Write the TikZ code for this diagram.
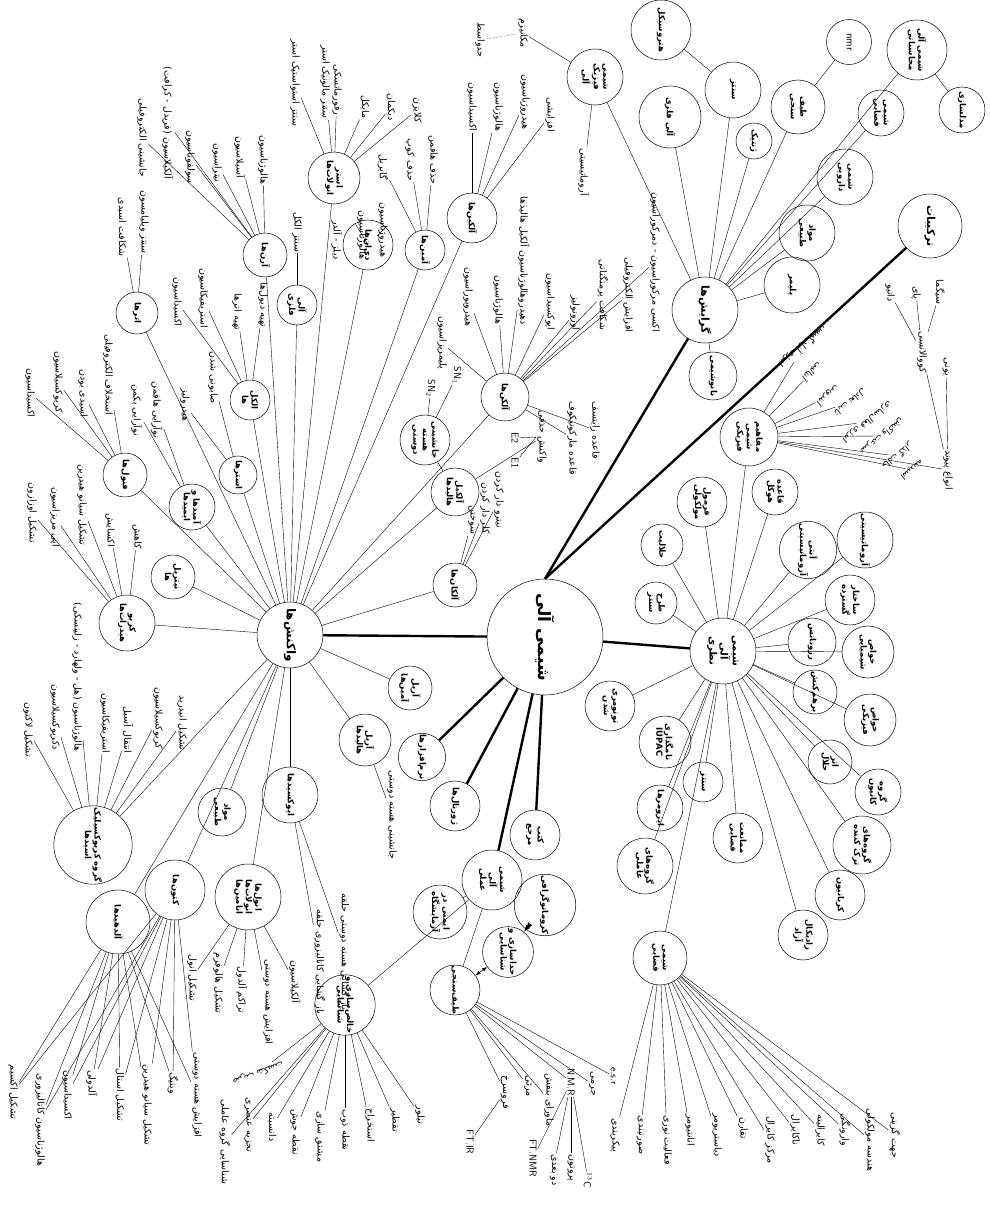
\documentclass[tikz,border=0pt]{standalone}
\usepackage{fontspec}
\usetikzlibrary{arrows.meta}
\newfontfamily\fa[Script=Arabic]{DejaVu Sans}
\TeXXeTstate=1
\newcommand{\R}[1]{\beginR#1\endR}
\tikzset{
  bub/.style={draw, circle, line width=0.5pt, inner sep=0.5pt, minimum size=#1,
    align=center, rotate=-90, font=\fa\bfseries\fontsize{8.5}{9.5}\selectfont},
  lab/.style={rotate=-90, inner sep=1pt, font=\fa\fontsize{9.5}{10}\selectfont},
  dlab/.style={rotate=-142, inner sep=1pt, font=\fa\fontsize{8.5}{9}\selectfont},
  latin/.style={rotate=-90, inner sep=1pt, font=\sffamily\fontsize{10}{11}\selectfont},
  ln/.style={line width=0.4pt},
  thk/.style={line width=2.4pt},
}
\begin{document}
\begin{tikzpicture}[x=1pt, y=-1pt]
\useasboundingbox (0,0) rectangle (990,1215);

% centre and main hubs
\node[bub=116, font=\fa\bfseries\fontsize{17}{19}\selectfont] (core) at (545,637) {\R{شیمی آلی}};
\node[bub=66, font=\fa\bfseries\fontsize{12}{13}\selectfont] (rxn) at (290,635) {\R{واکنش‌ها}};
\node[bub=66, font=\fa\bfseries\fontsize{10}{11}\selectfont] (theo) at (723,651) {\R{شیمی}\\\R{آلی}\\\R{نظری}};
\node[bub=64, font=\fa\bfseries\fontsize{11}{12}\selectfont] (comp) at (930,226) {\R{ترکیبات}};
\node[bub=66, font=\fa\bfseries\fontsize{11}{12}\selectfont] (field) at (705,310) {\R{گرایش‌ها}};

% grayesh-ha
\node[bub=60] (hetero) at (661,30) {\R{هتروسیکل}};
\node[bub=56] (synth) at (733,90) {\R{سنتز}};
\node[bub=62] (orgmet) at (670,117) {\R{آلی فلزی}};
\node[bub=36] (genet) at (754,141) {\R{ژنتیک}};
\node[bub=45, font=\sffamily\fontsize{11}{12}\selectfont] (nmr) at (849,42) {nmr};
\node[bub=54] (spec) at (798,107) {\R{طیف}\\\R{سنجی}};
\node[bub=60] (comput) at (917,50) {\R{شیمی آلی}\\\R{محاسباتی}};
\node[bub=46] (model) at (962,110) {\R{مدلسازی}};
\node[bub=46] (stereoF) at (881,113) {\R{شیمی}\\\R{فضایی}};
\node[bub=56] (medic) at (845,177) {\R{شیمی}\\\R{دارویی}};
\node[bub=56] (natur) at (807,233) {\R{مواد}\\\R{طبیعی}};
\node[bub=56] (polym) at (792,285) {\R{پلیمر}};
\node[bub=48] (nano) at (713,376) {\R{نانوشیمی}};
\node[bub=56] (physorg) at (595,77) {\R{شیمی}\\\R{فیزیک}\\\R{آلی}};
\node[lab] (mech) at (523,33) {\R{مکانیزم}};
\node[lab] (inter) at (480,40) {\R{حدواسط}};
\node[lab] (aromt) at (584,172) {\R{آروماتیسیتی}};
\foreach \n in {orgmet,synth,genet,spec,comput,stereoF,medic,natur,polym,nano,physorg}
  \draw[ln] (field) -- (\n);
\draw[ln] (synth) -- (hetero);
\draw[ln] (spec) -- (nmr);
\draw[ln] (comput) -- (model);
\draw[ln] (physorg) -- (mech);
\draw[ln, densely dotted] (mech) -- (inter);
\draw[ln] (physorg) -- (aromt);

% bonds
\node[lab] (cov) at (922,352) {\R{کووالانسی}};
\node[lab] (sigma) at (940,292) {\R{سیگما}};
\node[lab] (pi) at (916,293) {\R{پای}};
\node[lab] (dative) at (890,293) {\R{داتیو}};
\node[lab] (ionic) at (946,367) {\R{یونی}};
\node[lab] (bond) at (948,470) {\R{انواع پیوند}};
\foreach \n in {sigma,pi,dative} \draw[ln] (cov) -- (\n);
\draw[ln] (cov) -- (bond);
\draw[ln] (ionic) -- (bond);

% reactions: upper fan
\node[bub=50] (alkyne) at (472,218) {\R{آلکین‌ها}};
\node[lab] (yA1) at (472,107) {\R{اکسیداسیون}};
\node[lab] (yA2) at (498,107) {\R{هالوژناسیون}};
\node[lab] (yA3) at (525,102) {\R{هیدروژناسیون}};
\node[lab] (yA4) at (550,115) {\R{افزایشی}};
\foreach \n in {yA1,yA2,yA3,yA4} \draw[ln] (alkyne) -- (\n);

\node[bub=48] (alkene) at (505,397) {\R{آلکن‌ها}};
\node[lab] (eA1) at (442,343) {\R{پلیمریزاسیون}};
\node[lab] (eA2) at (468,297) {\R{هیدروبوراسیون}};
\node[lab] (eA3) at (498,300) {\R{هالوژناسیون}};
\node[lab] (eA4) at (524,261) {\R{دهیدروهالوژناسیون آلکیل هالیدها}};
\node[lab] (eA5) at (550,302) {\R{اپوکسیداسیون}};
\node[lab] (eA6) at (575,313) {\R{اوزونولیز}};
\node[lab] (eA7) at (603,295) {\R{شکافت پرمنگناتی}};
\node[lab] (eA8) at (628,295) {\R{افزایش الکتروفیلی}};
\node[lab] (eA9) at (655,262) {\R{اکسی مرکوراسیون - دمرکوراسیون}};
\node[lab] (eA10) at (572,438) {\R{قاعده مارکونیکوف}};
\node[lab] (eA11) at (595,430) {\R{قاعده زایتسف}};
\foreach \n in {eA1,eA2,eA3,eA4,eA5,eA6,eA7,eA8,eA9,eA10,eA11} \draw[ln] (alkene) -- (\n);

\node[bub=50] (nucsub) at (425,440) {\R{جانشینی}\\\R{هسته}\\\R{دوستی}};
\node[latin] (sn1) at (457,375) {SN$_1$};
\node[latin] (sn2) at (431,388) {SN$_2$};
\draw[ln] (sn1) -- (nucsub) -- (sn2);
\node[bub=48] (alkhal) at (455,492) {\R{آلکیل}\\\R{هالیدها}};
\node[lab] (elim) at (542,437) {\R{واکنش حذفی}};
\node[latin] (e2) at (515,438) {E2};
\node[latin] (e1) at (515,463) {E1};
\draw[ln] (e2) -- (elim.south) -- (e1);
\draw[ln] (alkhal) -- (nucsub);
\draw[ln] (alkhal) -- (elim);

\node[bub=44] (alkane) at (455,585) {\R{آلکان‌ها}};
\node[lab] (kA1) at (472,520) {\R{سوختن}};
\node[lab] (kA2) at (485,508) {\R{کلر دار کردن}};
\node[lab] (kA3) at (499,500) {\R{نیترو دار کردن}};
\foreach \n in {kA1,kA2,kA3} \draw[ln] (alkane) -- (\n);

\node[bub=40] (amine) at (425,250) {\R{آمین‌ها}};
\node[lab] (mA1) at (433,160) {\R{حذف هافمن}};
\node[lab] (mA2) at (410,160) {\R{حذف کوپ}};
\node[lab] (mA3) at (383,167) {\R{گابریل}};
\foreach \n in {mA1,mA2,mA3} \draw[ln] (amine) -- (\n);

\node[bub=50] (diene) at (368,245) {\R{دی‌ان‌ها}};
\node[lab] (dA1) at (383,230) {\R{هیدروژناسیون}};
\node[lab] (dA2) at (362,235) {\R{هالوژناسیون}};
\node[lab] (dA3) at (337,240) {\R{دیلز - آلدر}};
\foreach \n in {dA1,dA2,dA3} \draw[ln] (diene) -- (\n);

\node[bub=52] (enolest) at (334,178) {\R{استر}\\\R{انولات‌ها}};
\node[lab] (sA1) at (325,82) {\R{سنتز مالونیک استر}};
\node[lab] (sA2) at (295,83) {\R{سنتز استواستیک استر}};
\node[lab] (sA3) at (337,90) {\R{رفورماتسکی}};
\node[lab] (sA4) at (365,107) {\R{مایکل}};
\node[lab] (sA5) at (391,107) {\R{دیکمان}};
\node[lab] (sA6) at (417,110) {\R{کلایزن}};
\foreach \n in {sA1,sA2,sA3,sA4,sA5,sA6} \draw[ln] (enolest) -- (\n);

\node[bub=40] (orgmet2) at (297,305) {\R{آلی}\\\R{فلزی}};
\node[lab] (oA1) at (297,232) {\R{سنتز الکل}};
\draw[ln] (orgmet2) -- (oA1);

\node[bub=44] (arene) at (265,255) {\R{آرن‌ها}};
\node[lab] (rA1) at (263,160) {\R{هالوژناسیون}};
\node[lab] (rA2) at (240,157) {\R{آسیلاسیون}};
\node[lab] (rA3) at (217,163) {\R{نیتراسیون}};
\node[lab] (rA4) at (190,157) {\R{سولفوناسیون}};
\node[lab] (rA5) at (168,123) {\R{آلکیلاسیون (فریدل - کرافت)}};
\node[lab] (rA6) at (142,138) {\R{جانشینی الکتروفیلی}};
\foreach \n in {rA1,rA2,rA3,rA4,rA5,rA6} \draw[ln] (arene) -- (\n);

\node[bub=42] (ether) at (137,313) {\R{اترها}};
\node[lab] (tA1) at (144,222) {\R{سنتز ویلیامسون}};
\node[lab] (tA2) at (122,227) {\R{شکافت اسیدی}};
\foreach \n in {tA1,tA2} \draw[ln] (ether) -- (\n);

\node[bub=40] (alcohol) at (250,400) {\R{الکل}\\\R{ها}};
\node[lab] (lA1) at (263,305) {\R{تهیه دیول‌ها}};
\node[lab] (lA2) at (237,312) {\R{تهیه اترها}};
\node[lab] (lA3) at (203,298) {\R{استریفیکاسیون}};
\node[lab] (lA4) at (177,302) {\R{اکسیداسیون}};
\foreach \n in {lA1,lA2,lA3,lA4} \draw[ln] (alcohol) -- (\n);

\node[bub=38] (ester) at (238,475) {\R{استرها}};
\node[lab] (pA1) at (213,378) {\R{صابونی شدن}};
\node[lab] (pA2) at (185,405) {\R{هیدرولیز}};
\foreach \n in {pA1,pA2} \draw[ln] (ester) -- (\n);

\node[bub=46] (amide) at (192,507) {\R{آمیدها و}\\\R{ایمیدها}};
\node[lab] (iA1) at (157,410) {\R{نوآرایی هافمن}};
\node[lab] (iA2) at (137,410) {\R{نوآرایی بکمن}};
\foreach \n in {iA1,iA2} \draw[ln] (amide) -- (\n);

\node[bub=44] (phenol) at (125,475) {\R{فنول‌ها}};
\node[lab] (fA1) at (108,375) {\R{استخلاف الکتروفیلی}};
\node[lab] (fA2) at (83,393) {\R{اسیدی بودن}};
\node[lab] (fA3) at (58,382) {\R{کربوکسیلاسیون}};
\node[lab] (fA4) at (30,393) {\R{اکسیداسیون}};
\foreach \n in {fA1,fA2,fA3,fA4} \draw[ln] (phenol) -- (\n);

\node[bub=44] (nitrile) at (173,577) {\R{نیتریل}\\\R{ها}};

\node[bub=56] (carbo) at (127,623) {\R{کربو}\\\R{هیدرات‌ها}};
\node[lab] (cA1) at (137,537) {\R{کاهش}};
\node[lab] (cA2) at (110,530) {\R{اکسایش}};
\node[lab] (cA3) at (82,505) {\R{تشکیل سیانو هیدرین}};
\node[lab] (cA4) at (55,517) {\R{اپی مریزاسیون}};
\node[lab] (cA5) at (32,513) {\R{تشکیل اوزازون}};
\foreach \n in {cA1,cA2,cA3,cA4,cA5} \draw[ln] (carbo) -- (\n);

\node[bub=72] (acid) at (93,845) {\R{گروه کربوکسیلیک}\\\R{اسیدها}};
\node[lab] (aA1) at (182,723) {\R{تشکیل انیدرید}};
\node[lab] (aA2) at (158,718) {\R{کربوکسیلاسیون}};
\node[lab] (aA3) at (128,730) {\R{انتقال آسیل}};
\node[lab] (aA4) at (105,723) {\R{استریفیکاسیون}};
\node[lab] (aA5) at (77,677) {\R{هالوژناسیون (هل - ولهارد - زلینسکی)}};
\node[lab] (aA6) at (55,717) {\R{دکربوکسیلاسیون}};
\node[lab] (aA7) at (28,730) {\R{تشکیل لاکتون}};
\foreach \n in {aA1,aA2,aA3,aA4,aA5,aA6,aA7} \draw[ln] (acid) -- (\n);

\node[bub=48] (natprod) at (222,812) {\R{مواد}\\\R{طبیعی}};

\node[bub=66] (enol) at (248,897) {\R{انول‌ها}\\\R{انولات‌ها}\\\R{انامین‌ها}};
\node[lab] (nA1) at (192,978) {\R{تشکیل انول}};
\node[lab] (nA2) at (218,983) {\R{تشکیل هالوفرم}};
\node[lab] (nA3) at (242,990) {\R{تراکم آلدول}};
\node[lab] (nA4) at (268,1002) {\R{افزایش هسته دوستی}};
\node[lab] (nA5) at (295,982) {\R{آلکیلاسیون}};
\foreach \n in {nA1,nA2,nA3,nA4,nA5} \draw[ln] (enol) -- (\n);

\node[bub=56] (epox) at (290,795) {\R{اپوکسیدها}};
\node[lab] (xA1) at (320,962) {\R{باز گشایی کاتالیزوری حلقه}};
\node[lab] (xA2) at (345,952) {\R{باز گشایی هسته دوستی حلقه}};
\foreach \n in {xA1,xA2} \draw[ln] (epox) -- (\n);

\node[bub=60] (ketone) at (175,890) {\R{کتون‌ها}};
\node[bub=64] (aldeh) at (118,922) {\R{آلدهیدها}};
\node[lab] (hA1) at (197,1095) {\R{افزایش هسته دوستی}};
\node[lab] (hA2) at (173,1083) {\R{ویتیگ}};
\node[lab] (hA3) at (147,1105) {\R{تشکیل سیانو هیدرین}};
\node[lab] (hA4) at (120,1095) {\R{تشکیل استال}};
\node[lab] (hA5) at (92,1083) {\R{آلدولی}};
\node[lab] (hA6) at (67,1095) {\R{اکسیداسیون}};
\node[lab] (hA7) at (40,1120) {\R{هالوژناسیون کاتالیزوری}};
\node[lab] (hA8) at (13,1092) {\R{تشکیل اکسیم}};
\foreach \n in {hA1,hA2,hA3,hA4,hA5,hA6,hA7,hA8} {
  \draw[ln] (aldeh) -- (\n);
  \draw[ln] (ketone) -- (\n);
}

\node[bub=44] (arylam) at (410,688) {\R{آریل}\\\R{آمین‌ها}};
\node[bub=52] (arylhal) at (365,740) {\R{آریل}\\\R{هالیدها}};
\node[lab] (yH1) at (392,815) {\R{جانشینی هسته دوستی}};
\draw[ln] (arylhal) -- (yH1);

\foreach \n in {alkyne,alkene,alkhal,alkane,amine,diene,enolest,orgmet2,arene,ether,alcohol,ester,amide,phenol,nitrile,carbo,acid,natprod,enol,epox,ketone,aldeh,arylam,arylhal}
  \draw[ln] (rxn) -- (\n);

% lower hubs
\node[bub=46] (soft) at (422,757) {\R{نرم‌افزارها}};
\node[bub=50] (journ) at (455,806) {\R{ژورنال‌ها}};
\node[bub=50] (books) at (535,835) {\R{کتب}\\\R{مرجع}};
\node[bub=60] (pract) at (492,880) {\R{شیمی}\\\R{آلی}\\\R{عملی}};
\node[bub=54] (safety) at (440,912) {\R{ایمنی در}\\\R{آزمایشگاه}};
\node[bub=50] (chrom) at (545,905) {\R{کروماتوگرافی}};
\node[bub=48] (sepid) at (508,952) {\R{جداسازی و}\\\R{شناسایی}};
\node[bub=48] (spec2) at (455,990) {\R{طیف‌سنجی}};
\node[bub=60] (purif) at (345,1005) {\R{خالص‌سازی و}\\\R{شناسایی}};
\draw[thk] (core) -- (soft);
\draw[thk] (core) -- (journ);
\draw[thk] (core) -- (books);
\draw[thk] (core) -- (pract);
\draw[ln] (pract) -- (safety);
\draw[ln] (pract) -- (chrom);
\draw[ln] (pract) -- (spec2);
\draw[ln] (pract) -- (purif);
\draw[line width=1pt, {Latex[length=7pt]}-{Latex[length=7pt]}] (chrom) -- (sepid);
\draw[line width=0.6pt, {Latex[length=5pt]}-{Latex[length=5pt]}] (sepid) -- (spec2);

% spectroscopy
\node[lab] (ir) at (505,1092) {\R{فروسرخ}};
\node[lab] (vis) at (528,1086) {\R{مرئی}};
\node[lab] (uv) at (549,1100) {\R{ماورای بنفش}};
\node[latin] (nmrl) at (571,1082) {N.M.R};
\node[lab] (mass) at (592,1084) {\R{جرمی}};
\node[latin] (esr) at (613,1076) {e.s.r};
\node[latin] (ftir) at (470,1142) {FT.IR};
\node[latin] (ftnmr) at (533,1158) {FT.NMR};
\node[lab] (twod) at (553,1170) {\R{دو بعدی}};
\node[lab] (proton) at (571,1168) {\R{پروتون}};
\node[latin] (cthirteen) at (588,1180) {$^{13}$C};
\foreach \n in {ir,vis,uv,nmrl,mass,esr} \draw[ln] (spec2) -- (\n);
\draw[ln] (ir) -- (ftir);
\foreach \n in {ftnmr,twod,proton,cthirteen} \draw[ln] (nmrl) -- (\n);

% purification
\node[lab] (pu1) at (225,1142) {\R{شناسایی گروه عاملی}};
\node[lab] (pu2) at (248,1125) {\R{تجزیه عنصری}};
\node[lab] (pu3) at (272,1127) {\R{دانسیته}};
\node[lab] (pu4) at (295,1132) {\R{نقطه جوش}};
\node[lab] (pu5) at (320,1137) {\R{مشتق سازی}};
\node[lab] (pu6) at (345,1130) {\R{نقطه ذوب}};
\node[lab] (pu7) at (370,1125) {\R{استخراج}};
\node[lab] (pu8) at (395,1120) {\R{تقطیر}};
\node[lab] (pu9) at (420,1115) {\R{تبلور}};
\node[dlab, rotate=-18] (pu10) at (258,1073) {\R{ضریب شکست}};
\foreach \n in {pu1,pu2,pu3,pu4,pu5,pu6,pu7,pu8,pu9,pu10} \draw[ln] (purif) -- (\n);

% theory children
\node[bub=42] (design) at (656,603) {\R{طرح}\\\R{سنتز}};
\node[bub=42] (solub) at (662,545) {\R{حلالیت}};
\node[bub=50] (formula) at (702,502) {\R{فرمول}\\\R{مولکولی}};
\node[bub=46] (huckel) at (775,492) {\R{قاعده}\\\R{هوکل}};
\node[bub=58] (concept) at (749,437) {\R{مفاهیم}\\\R{شیمی}\\\R{فیزیکی}};
\node[bub=56] (antiar) at (808,550) {\R{آنتی}\\\R{آروماتیسیتی}};
\node[bub=56] (arom) at (865,540) {\R{آروماتیسیتی}};
\node[bub=50] (struct) at (850,600) {\R{ساختار}\\\R{گسترده}};
\node[bub=48] (reson) at (812,642) {\R{رزونانس}};
\node[bub=52] (chemp) at (868,652) {\R{خواص}\\\R{شیمیایی}};
\node[bub=44] (inter2) at (815,692) {\R{برهم‌کنش}};
\node[bub=52] (physp) at (870,720) {\R{خواص}\\\R{فیزیکی}};
\node[bub=44] (solv) at (830,762) {\R{اثر}\\\R{حلال}};
\node[bub=46] (cation) at (878,792) {\R{گروه}\\\R{کاتیون}};
\node[bub=58] (leave) at (862,845) {\R{گروه‌های}\\\R{ترک کننده}};
\node[bub=50] (carban) at (840,895) {\R{کربانیون}};
\node[bub=50] (radic) at (803,935) {\R{رادیکال}\\\R{آزاد}};
\node[bub=50] (tauto) at (610,706) {\R{توتومری}\\\R{شدن}};
\node[bub=52] (iupac) at (665,742) {\R{نامگذاری}\\IUPAC};
\node[bub=46] (isomer) at (660,808) {\R{ایزومرها}};
\node[bub=56] (funcg) at (645,866) {\R{گروه‌های}\\\R{عاملی}};
\node[bub=40] (synth3) at (703,782) {\R{سنتز}};
\node[bub=50] (steric) at (738,838) {\R{ممانعت}\\\R{فضایی}};
\node[bub=54] (stereoT) at (660,958) {\R{شیمی}\\\R{فضایی}};
\foreach \n in {design,solub,formula,huckel,concept,antiar,arom,struct,reson,chemp,inter2,physp,solv,cation,leave,carban,radic,tauto,iupac,isomer,funcg,synth3,steric,stereoT}
  \draw[ln] (theo) -- (\n);

% physical chemistry concepts
\node[dlab] (q1) at (803,347) {\R{انرژی آزاد گیبس}};
\node[dlab] (q2) at (812,372) {\R{آنتالپی}};
\node[dlab] (q3) at (828,396) {\R{آنتروپی}};
\node[dlab] (q4) at (850,402) {\R{ثابت تعادل}};
\node[dlab] (q5) at (867,422) {\R{انرژی فعال‌سازی}};
\node[dlab] (q6) at (882,436) {\R{سرعت واکنش}};
\node[dlab] (q7) at (897,456) {\R{حالت گذار}};
\node[dlab] (q8) at (912,470) {\R{اسیدیته}};
\foreach \n in {q1,q2,q3,q4,q5,q6,q7,q8} \draw[ln] (concept) -- (\n);
\draw[ln] (concept) -- (bond);

\node[lab] (zA1) at (615,1135) {\R{پیکربندی}};
\node[lab] (zA2) at (640,1135) {\R{صورتبندی}};
\node[lab] (zA3) at (667,1140) {\R{فعالیت نوری}};
\node[lab] (zA4) at (690,1130) {\R{انانتیومر}};
\node[lab] (zA5) at (717,1135) {\R{دیاستریومر}};
\node[lab] (zA6) at (743,1128) {\R{تقارن}};
\node[lab] (zA7) at (770,1140) {\R{مرکز کایرال}};
\node[lab] (zA8) at (795,1130) {\R{ناکایرال}};
\node[lab] (zA9) at (820,1130) {\R{کایرالیته}};
\node[lab] (zA10) at (845,1130) {\R{وارونگی}};
\node[lab] (zA11) at (870,1140) {\R{هندسه مولکولی}};
\node[lab] (zA12) at (895,1135) {\R{جهت گزینی}};
\foreach \n in {zA1,zA2,zA3,zA4,zA5,zA6,zA7,zA8,zA9,zA10,zA11,zA12} \draw[ln] (stereoT) -- (\n);

% thick spokes
\draw[thk] (core) -- (rxn);
\draw[thk] (core) -- (theo);
\draw[thk] (core.west) -- (comp);
\draw[thk] (core.west) -- (field);
\end{tikzpicture}
\end{document}
